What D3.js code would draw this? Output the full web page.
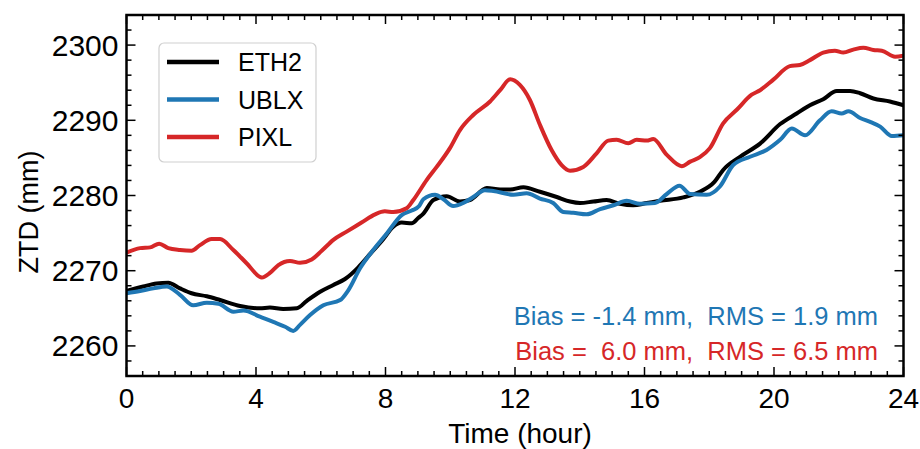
<!DOCTYPE html>
<html>
<head>
<meta charset="utf-8">
<script src="https://cdn.jsdelivr.net/npm/d3@7"></script>
<style>
  body { margin: 0; background: #fff; }
  text { font-family: "Liberation Sans", Arial, sans-serif; }
</style>
</head>
<body>
<div id="chart"></div>
<script>
// ---- data ----
var ethHours = [0, 0.52, 0.93, 1.29, 1.65, 2.01, 2.48, 2.89, 3.51, 4.12, 4.43, 4.84, 5.26, 5.57, 5.98, 6.39, 6.75, 7.16, 7.52, 7.93, 8.24, 8.5, 8.81, 9.01, 9.17, 9.48, 9.89, 10.3, 10.61, 11.13, 11.54, 11.85, 12.26, 12.77, 13.29, 13.7, 14.01, 14.42, 14.83, 15.24, 15.65, 16.07, 16.48, 17.2, 17.71, 18.16, 18.43, 18.95, 19.57, 20.19, 20.7, 21.11, 21.52, 21.94, 22.35, 22.66, 23.07, 23.58, 24];
var ethZtd = [2267.3, 2267.9, 2268.3, 2268.4, 2267.65, 2267.0, 2266.6, 2266.1, 2265.3, 2265.0, 2265.1, 2264.9, 2265.0, 2266.0, 2267.2, 2268.1, 2268.9, 2270.45, 2272.2, 2274.2, 2275.85, 2276.4, 2276.3, 2277.0, 2277.6, 2279.4, 2279.9, 2279.2, 2279.4, 2281.0, 2280.8, 2280.8, 2281.1, 2280.5, 2279.8, 2279.2, 2279.0, 2279.2, 2279.4, 2278.9, 2278.7, 2279.0, 2279.3, 2279.75, 2280.5, 2281.8, 2283.4, 2285.15, 2286.9, 2289.5, 2290.9, 2292.0, 2292.8, 2293.9, 2293.9, 2293.6, 2292.9, 2292.5, 2292.0];

var ublxHours = [0, 0.42, 0.83, 1.24, 1.65, 2.06, 2.48, 2.84, 3.3, 3.61, 4.12, 4.53, 4.9, 5.15, 5.36, 5.67, 6.08, 6.6, 6.85, 7.21, 7.62, 8.04, 8.5, 8.81, 9.04, 9.17, 9.53, 9.79, 10.09, 10.4, 10.71, 11.07, 11.33, 11.95, 12.36, 12.77, 13.18, 13.49, 13.8, 14.21, 14.63, 15.04, 15.45, 15.86, 16.32, 16.69, 17.08, 17.41, 17.92, 18.33, 18.74, 19.26, 19.77, 20.19, 20.55, 20.96, 21.42, 21.78, 22.09, 22.3, 22.66, 22.97, 23.28, 23.64, 24];
var ublxZtd = [2267.0, 2267.3, 2267.65, 2267.9, 2266.8, 2265.4, 2265.75, 2265.6, 2264.55, 2264.7, 2263.9, 2263.2, 2262.55, 2262.0, 2262.8, 2264.1, 2265.4, 2266.1, 2267.4, 2270.3, 2272.75, 2274.95, 2277.4, 2278.0, 2278.6, 2279.5, 2280.1, 2279.5, 2278.6, 2279.0, 2279.8, 2280.7, 2280.6, 2280.1, 2280.3, 2279.6, 2279.0, 2277.8, 2277.7, 2277.5, 2278.2, 2278.7, 2279.3, 2278.9, 2279.0, 2280.2, 2281.3, 2280.2, 2280.1, 2281.2, 2284.05, 2285.15, 2286.05, 2287.4, 2288.9, 2288.0, 2290.0, 2291.2, 2290.9, 2291.2, 2290.3, 2289.8, 2289.15, 2287.9, 2288.0];

var pixlHours = [0, 0.42, 0.73, 1.01, 1.29, 1.65, 2.01, 2.27, 2.63, 2.89, 3.3, 3.71, 4.18, 4.43, 4.69, 5.05, 5.36, 5.72, 6.03, 6.39, 6.8, 7.26, 7.68, 7.98, 8.24, 8.65, 8.86, 9.27, 9.58, 9.99, 10.3, 10.71, 11.23, 11.54, 11.85, 12.15, 12.46, 12.77, 13.13, 13.44, 13.7, 14.11, 14.52, 14.88, 15.14, 15.5, 15.76, 16.07, 16.27, 16.69, 17.15, 17.41, 17.71, 18.02, 18.43, 18.85, 19.31, 19.57, 19.98, 20.49, 20.8, 21.11, 21.52, 21.88, 22.14, 22.45, 22.76, 23.07, 23.33, 23.74, 24];
var pixlZtd = [2272.4, 2273.0, 2273.1, 2273.6, 2273.0, 2272.75, 2272.65, 2273.4, 2274.2, 2274.2, 2272.75, 2271.0, 2269.1, 2269.7, 2270.75, 2271.3, 2271.05, 2271.5, 2272.65, 2274.1, 2275.2, 2276.4, 2277.5, 2277.9, 2277.8, 2278.3, 2279.4, 2282.05, 2283.8, 2286.3, 2288.7, 2290.7, 2292.5, 2294.0, 2295.45, 2294.7, 2292.7, 2289.4, 2286.05, 2284.05, 2283.3, 2283.8, 2285.6, 2287.3, 2287.4, 2286.95, 2287.4, 2287.3, 2287.5, 2285.4, 2283.9, 2284.5, 2285.1, 2286.3, 2289.6, 2291.4, 2293.4, 2294.0, 2295.4, 2297.2, 2297.35, 2298.0, 2299.0, 2299.25, 2299.0, 2299.4, 2299.65, 2299.35, 2299.25, 2298.45, 2298.6];

var seriesNames = ["ETH2", "UBLX", "PIXL"];
var seriesColors = ["#000000", "#1f77b4", "#d62728"];
var xTickValues = [0, 4, 8, 12, 16, 20, 24];
var yTickValues = [2260, 2270, 2280, 2290, 2300];
var statLines = ["Bias = -1.4 mm,  RMS = 1.9 mm", "Bias =  6.0 mm,  RMS = 6.5 mm"];

// ---- layout ----
var W = 920, H = 449;
var plot = { left: 126.5, right: 903.5, top: 15, bottom: 376 };

var svg = d3.select("#chart").append("svg")
  .attr("width", W).attr("height", H);

var x = d3.scaleLinear().domain([0, 24]).range([plot.left, plot.right]);
var y = d3.scaleLinear().domain([2256, 2304]).range([plot.bottom, plot.top]);

svg.append("clipPath").attr("id", "clip")
  .append("rect")
  .attr("x", plot.left).attr("y", plot.top)
  .attr("width", plot.right - plot.left).attr("height", plot.bottom - plot.top);

// series lines
var allHours = [ethHours, ublxHours, pixlHours];
var allZtd = [ethZtd, ublxZtd, pixlZtd];
var line = d3.line()
  .x(function(d) { return x(d[0]); })
  .y(function(d) { return y(d[1]); })
  .curve(d3.curveMonotoneX);

[0, 1, 2].forEach(function(s) {
  var pts = allHours[s].map(function(h, i) { return [h, allZtd[s][i]]; });
  svg.append("path")
    .attr("clip-path", "url(#clip)")
    .attr("d", line(pts))
    .attr("fill", "none")
    .attr("stroke", seriesColors[s])
    .attr("stroke-width", 4)
    .attr("stroke-linejoin", "round")
    .attr("stroke-linecap", "round");
});

// ticks (inward on all four sides)
var xMinor = d3.range(0, 24.01, 0.5);
var yMinor = d3.range(2256, 2304.01, 2);
var tk = svg.append("g").attr("stroke", "#000").attr("stroke-width", 1.5);
xMinor.forEach(function(v) {
  var len = (v % 4 === 0) ? 9 : 5;
  tk.append("line").attr("x1", x(v)).attr("x2", x(v)).attr("y1", plot.bottom).attr("y2", plot.bottom - len);
  tk.append("line").attr("x1", x(v)).attr("x2", x(v)).attr("y1", plot.top).attr("y2", plot.top + len);
});
yMinor.forEach(function(v) {
  var len = (v % 10 === 0) ? 9 : 5;
  tk.append("line").attr("y1", y(v)).attr("y2", y(v)).attr("x1", plot.left).attr("x2", plot.left + len);
  tk.append("line").attr("y1", y(v)).attr("y2", y(v)).attr("x1", plot.right).attr("x2", plot.right - len);
});

// frame
svg.append("rect")
  .attr("x", plot.left).attr("y", plot.top)
  .attr("width", plot.right - plot.left).attr("height", plot.bottom - plot.top)
  .attr("fill", "none").attr("stroke", "#000").attr("stroke-width", 2.5);

// tick labels
svg.selectAll(".xl").data(xTickValues).enter().append("text")
  .attr("x", function(d) { return x(d); })
  .attr("y", 408)
  .attr("text-anchor", "middle")
  .attr("font-size", 28)
  .text(function(d) { return d; });

svg.selectAll(".yl").data(yTickValues).enter().append("text")
  .attr("x", plot.left - 8)
  .attr("y", function(d) { return y(d) + 10.5; })
  .attr("text-anchor", "end")
  .attr("font-size", 30)
  .text(function(d) { return d; });

// axis titles
svg.append("text")
  .attr("x", 520).attr("y", 443)
  .attr("text-anchor", "middle")
  .attr("font-size", 28)
  .text("Time (hour)");

svg.append("text")
  .attr("transform", "translate(38,212) rotate(-90)")
  .attr("text-anchor", "middle")
  .attr("font-size", 27)
  .text("ZTD (mm)");

// legend
var lg = svg.append("g");
lg.append("rect")
  .attr("x", 159).attr("y", 43).attr("width", 157).attr("height", 119)
  .attr("rx", 5).attr("fill", "#fff").attr("fill-opacity", 0.8)
  .attr("stroke", "#d0d0d0").attr("stroke-width", 1.2);
seriesNames.forEach(function(name, i) {
  var ly = 62 + i * 37.5;
  lg.append("line")
    .attr("x1", 167).attr("x2", 219).attr("y1", ly).attr("y2", ly)
    .attr("stroke", seriesColors[i]).attr("stroke-width", 4.5);
  lg.append("text")
    .attr("x", 238).attr("y", ly + 9)
    .attr("font-size", 25)
    .text(name);
});

// statistics
statLines.forEach(function(t, i) {
  svg.append("text")
    .attr("x", 878).attr("y", 325 + i * 35)
    .attr("text-anchor", "end")
    .attr("font-size", 25.5)
    .attr("fill", seriesColors[i + 1])
    .style("white-space", "pre")
    .text(t);
});
</script>
</body>
</html>
